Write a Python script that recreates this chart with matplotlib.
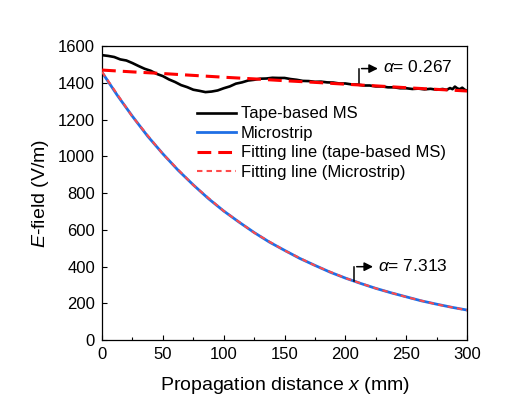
import matplotlib
matplotlib.use('Agg')
import matplotlib.pyplot as plt
from matplotlib.ticker import MultipleLocator

plt.rcParams['font.family'] = ['Liberation Sans', 'DejaVu Sans']
plt.rcParams['mathtext.fontset'] = 'custom'
plt.rcParams['mathtext.rm'] = 'Liberation Sans'
plt.rcParams['mathtext.it'] = 'Liberation Sans:italic'

x_tape = [0, 5, 10, 15, 20, 25, 30, 35, 40, 45, 50, 55, 60, 65, 70, 75, 80, 85, 90, 95,
          100, 105, 110, 115, 120, 125, 130, 135, 140, 145, 150, 155, 160, 165, 170, 175,
          180, 185, 190, 195, 200, 205, 210, 215, 220, 225, 230, 235, 240, 245, 250, 255,
          260, 265, 270, 275, 280, 283, 286, 288, 290, 292, 294, 296, 298, 300]
e_tape = [1551, 1547, 1541, 1528, 1522, 1508, 1492, 1477, 1466, 1449, 1437, 1419, 1405, 1388,
          1377, 1363, 1357, 1350, 1353, 1359, 1371, 1381, 1396, 1403, 1413, 1417, 1423, 1424,
          1428, 1427, 1427, 1421, 1417, 1411, 1410, 1406, 1407, 1403, 1402, 1397, 1397, 1392,
          1391, 1386, 1386, 1381, 1381, 1376, 1376, 1371, 1371, 1367, 1369, 1365, 1368, 1363,
          1367, 1362, 1372, 1366, 1380, 1370, 1366, 1374, 1363, 1358]

# measured microstrip
x_ms = [0, 12.5, 25, 37.5, 50, 62.5, 75, 87.5, 100, 112.5, 125, 137.5, 150, 162.5, 175,
        187.5, 200, 212.5, 225, 237.5, 250, 262.5, 275, 287.5, 300]
e_ms = [1458, 1333, 1218, 1110, 1014, 925, 845, 770, 703, 643, 586, 534, 489, 445, 407,
        370, 338, 309, 282, 258, 236, 214, 196, 179, 164]

# fitting lines
x_fit = [0, 25, 50, 75, 100, 125, 150, 175, 200, 225, 250, 275, 300]
fit_tape = [1470, 1460, 1451, 1441, 1431, 1422, 1412, 1403, 1393, 1384, 1374, 1365, 1356]
fit_ms = [1460, 1216, 1013, 844, 703, 585, 488, 406, 338, 282, 235, 195, 163]

fig = plt.figure(figsize=(5.26, 4.05), dpi=100)
ax = fig.add_axes([0.194, 0.160, 0.694, 0.726])

ax.plot(x_tape, e_tape, color='black', lw=1.9, label='Tape-based MS', zorder=3)
ax.plot(x_ms, e_ms, color='#1f6fe5', lw=2.0, label='Microstrip', zorder=2)
ax.plot(x_fit, fit_tape, color='#ff0000', lw=2.2, dashes=(4.5, 2.3),
        label='Fitting line (tape-based MS)', zorder=4)
ax.plot(x_fit, fit_ms, color='#ff4a4a', lw=1.5, dashes=(2.6, 2.0),
        label='Fitting line (Microstrip)', zorder=4)

ax.set_xlim(0, 300)
ax.set_ylim(0, 1600)
ax.xaxis.set_major_locator(MultipleLocator(50))
ax.xaxis.set_minor_locator(MultipleLocator(25))
ax.yaxis.set_major_locator(MultipleLocator(200))
ax.tick_params(which='both', direction='in', top=False, right=False, labelsize=12)
ax.tick_params(which='major', length=3.5, width=0.8, pad=5)
ax.tick_params(which='minor', length=2, width=0.8)
for s in ax.spines.values():
    s.set_linewidth(0.9)

ax.set_xlabel('Propagation distance $x$ (mm)', fontsize=14, labelpad=9)
ax.set_ylabel('$E$-field (V/m)', fontsize=14, labelpad=5)

ax.legend(loc='upper left', bbox_to_anchor=(0.26, 0.795), frameon=False, fontsize=12,
          handlelength=2.35, handletextpad=0.3, labelspacing=0.27, borderaxespad=0,
          borderpad=0)

# annotations
ax.annotate('', xy=(229, 1478), xytext=(211, 1478),
            arrowprops=dict(arrowstyle='-|>', color='black', lw=1.1, mutation_scale=13))
ax.plot([211, 211], [1478, 1393], color='black', lw=1.1)
ax.text(231, 1486, '$\\alpha$= 0.267', fontsize=12.5, va='center', ha='left')

ax.annotate('', xy=(225, 400), xytext=(207, 400),
            arrowprops=dict(arrowstyle='-|>', color='black', lw=1.1, mutation_scale=13))
ax.plot([207, 207], [400, 322], color='black', lw=1.1)
ax.text(227, 405, '$\\alpha$= 7.313', fontsize=12.5, va='center', ha='left')

fig.savefig('out.png', dpi=100)
